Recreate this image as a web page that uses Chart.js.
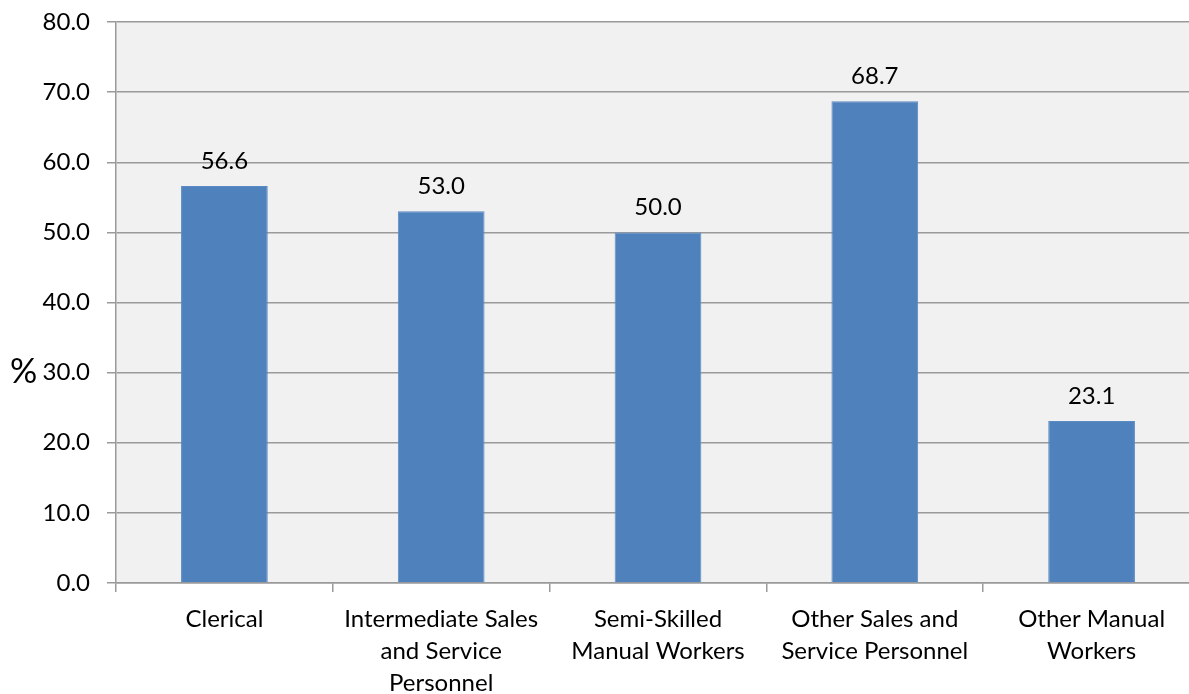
<!DOCTYPE html>
<html>
<head>
<meta charset="utf-8">
<script src="https://cdn.jsdelivr.net/npm/chart.js@4/dist/chart.umd.min.js"></script>
<style>
  html, body { margin: 0; padding: 0; background: #ffffff; overflow: hidden; }
  #wrap { width: 1200px; height: 694px; }
</style>
</head>
<body>
<div id="wrap"><canvas id="c" width="1200" height="694"></canvas></div>
<script>
// Occupational groups and the share (%) for each
const categories = [
  'Clerical',
  ['Intermediate Sales', 'and Service', 'Personnel'],
  ['Semi-Skilled', 'Manual Workers'],
  ['Other Sales and', 'Service Personnel'],
  ['Other Manual', 'Workers']
];
const values = [56.6, 53.0, 50.0, 68.7, 23.1];
const yTicks = [0, 10, 20, 30, 40, 50, 60, 70, 80];

const FONT = 'Lato, "Open Sans", sans-serif';
const TEXT = '#000000';
const GRID = '#9a9a9a';

// Light grey fill behind the plot area
const plotBackground = {
  id: 'plotBackground',
  beforeDraw(chart) {
    const { ctx, chartArea: a } = chart;
    ctx.save();
    ctx.fillStyle = '#f1f1f1';
    ctx.fillRect(a.left, a.top, a.right - a.left, a.bottom - a.top);
    ctx.restore();
  }
};

// Value labels above each bar
const valueLabels = {
  id: 'valueLabels',
  afterDatasetsDraw(chart) {
    const { ctx } = chart;
    const meta = chart.getDatasetMeta(0);
    ctx.save();
    ctx.font = '24px ' + FONT;
    ctx.fillStyle = TEXT;
    ctx.textAlign = 'center';
    ctx.textBaseline = 'middle';
    meta.data.forEach((bar, i) => {
      const v = chart.data.datasets[0].data[i];
      ctx.fillText(v.toFixed(1), bar.x, bar.y - 25);
    });
    ctx.restore();
  }
};

// Unrotated "%" axis title at the left
const axisTitle = {
  id: 'axisTitle',
  afterDraw(chart) {
    const { ctx } = chart;
    ctx.save();
    ctx.font = '34px ' + FONT;
    ctx.fillStyle = TEXT;
    ctx.textAlign = 'left';
    ctx.textBaseline = 'middle';
    ctx.fillText('%', 10, 372);
    ctx.restore();
  }
};

new Chart(document.getElementById('c'), {
  type: 'bar',
  data: {
    labels: categories,
    datasets: [{
      data: values,
      backgroundColor: '#4f81bd',
      borderColor: '#5b8bc4',
      borderWidth: 1,
      barPercentage: 0.4,
      categoryPercentage: 1.0
    }]
  },
  options: {
    responsive: false,
    animation: false,
    layout: { padding: { top: 22, left: 0, right: 0, bottom: 0 } },
    plugins: {
      legend: { display: false },
      tooltip: { enabled: false }
    },
    scales: {
      x: {
        offset: true,
        grid: {
          offset: true,
          drawOnChartArea: false,
          drawTicks: true,
          tickLength: 9,
          color: GRID,
          lineWidth: 1.5
        },
        border: { display: true, color: GRID, width: 1.5 },
        ticks: {
          color: TEXT,
          font: { family: FONT, size: 24, lineHeight: 1.33 },
          padding: 11,
          maxRotation: 0,
          autoSkip: false
        },
        afterFit(scale) {
          scale.height = 111;
          scale.paddingLeft = 0;
          scale.paddingRight = 0;
        }
      },
      y: {
        min: 0,
        max: 80,
        afterBuildTicks(scale) { scale.ticks = yTicks.map(v => ({ value: v })); },
        grid: {
          color: GRID,
          lineWidth: 1.5,
          tickLength: 9
        },
        border: { display: true, color: GRID, width: 1.5 },
        ticks: {
          color: TEXT,
          font: { family: FONT, size: 24 },
          padding: 17,
          callback: v => Number(v).toFixed(1)
        },
        afterFit(scale) {
          scale.width = 116;
          scale.paddingTop = 0;
          scale.paddingBottom = 0;
        }
      }
    }
  },
  plugins: [plotBackground, valueLabels, axisTitle]
});
</script>
</body>
</html>
